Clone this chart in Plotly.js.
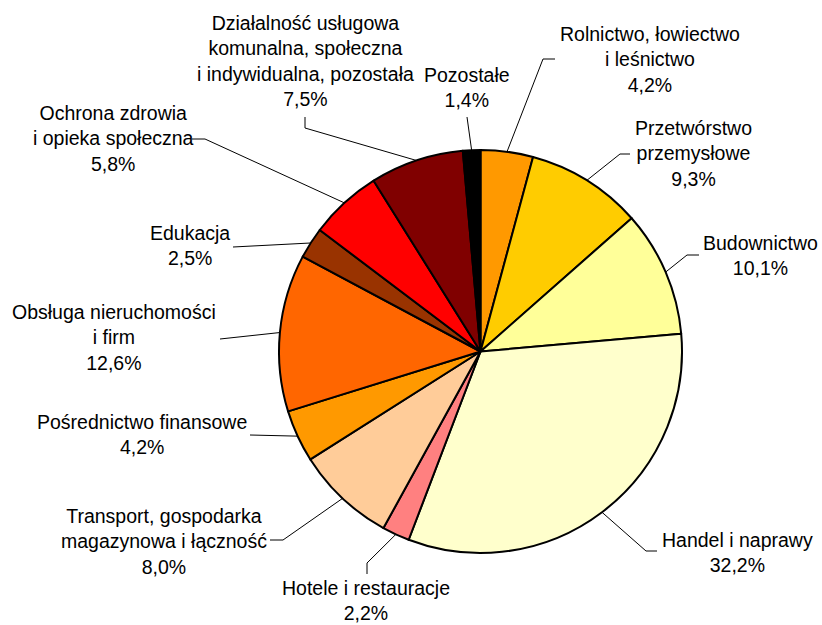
<!DOCTYPE html>
<html>
<head>
<meta charset="utf-8">
<script src="https://cdn.plot.ly/plotly-3.0.1.min.js"></script>
<style>html,body{margin:0;padding:0;background:#fff;}#chart{width:822px;height:625px;}</style>
</head>
<body>
<div id="chart"></div>
<script>
// ---- data ----
const categories = [
  "Rolnictwo, łowiectwo<br>i leśnictwo",
  "Przetwórstwo<br>przemysłowe",
  "Budownictwo",
  "Handel i naprawy",
  "Hotele i restauracje",
  "Transport, gospodarka<br>magazynowa i łączność",
  "Pośrednictwo finansowe",
  "Obsługa nieruchomości<br>i firm",
  "Edukacja",
  "Ochrona zdrowia<br>i opieka społeczna",
  "Działalność usługowa<br>komunalna, społeczna<br>i indywidualna, pozostała",
  "Pozostałe"
];
const values = [4.2, 9.3, 10.1, 32.2, 2.2, 8.0, 4.2, 12.6, 2.5, 5.8, 7.5, 1.4];
const colors = ["#FF9900","#FFCC00","#FFFF99","#FFFFCC","#FF8080","#FFCC99",
                "#FF9900","#FF6600","#993300","#FF0000","#800000","#000000"];

// ---- label layout (pixel positions of label blocks and leader-line bends) ----
const labelPos = [ // [centerX, centerY]
  [650, 59], [693, 154], [760, 256], [737, 552], [366, 600], [164, 541],
  [142, 434], [114, 338], [190, 246], [113, 138], [305, 61], [467, 87]
];
const leaderPts = [ // bend/end points after the slice edge point
  [[543,59],[555,59]], [[620,154],[630,154]], [[687,255],[699,255]],
  [[646,551],[657,551]], [[367,563],[367,574]], [[283,540],[270,540]],
  [[250,435]], [[220,339]], [[233,247]], [[205,139],[192,139]],
  [[305,128],[305,117]], [[467,117]]
];

const W = 822, H = 625;
const cx = 480.5, cy = 351.5, R = 201.5;
const px = x => x / W, py = y => 1 - y / H;

const total = values.reduce((a,b)=>a+b,0);
let cum = 0;
const shapes = [];
const annotations = [];
values.forEach((v,i)=>{
  const mid = (cum + v/2) / total * 2 * Math.PI;
  cum += v;
  const sx = cx + R*Math.sin(mid), sy = cy - R*Math.cos(mid);
  let path = `M${px(sx)},${py(sy)}`;
  leaderPts[i].forEach(p => { path += ` L${px(p[0])},${py(p[1])}`; });
  shapes.push({type:'path', xref:'paper', yref:'paper', path:path,
               line:{color:'#000', width:1}});
  annotations.push({
    xref:'paper', yref:'paper', x:px(labelPos[i][0]), y:py(labelPos[i][1]),
    xanchor:'center', yanchor:'middle', align:'center', showarrow:false,
    text: categories[i] + '<br>' + v.toFixed(1).replace('.', ',') + '%',
    font:{family:'"Liberation Sans", Arial, sans-serif', size:19.5, color:'#000'}
  });
});

const trace = {
  type:'pie', values:values, labels:categories.map((c,i)=>c+'#'+i),
  sort:false, direction:'clockwise', rotation:0,
  marker:{colors:colors, line:{color:'#000', width:2}},
  textinfo:'none', hoverinfo:'none', showlegend:false,
  domain:{x:[(cx-R)/W, (cx+R)/W], y:[(H-cy-R)/H, (H-cy+R)/H]}
};

Plotly.newPlot('chart', [trace], {
  width:W, height:H, margin:{l:0,r:0,t:0,b:0},
  paper_bgcolor:'#fff', plot_bgcolor:'#fff',
  shapes:shapes, annotations:annotations, showlegend:false
}, {staticPlot:true});
</script>
</body>
</html>
